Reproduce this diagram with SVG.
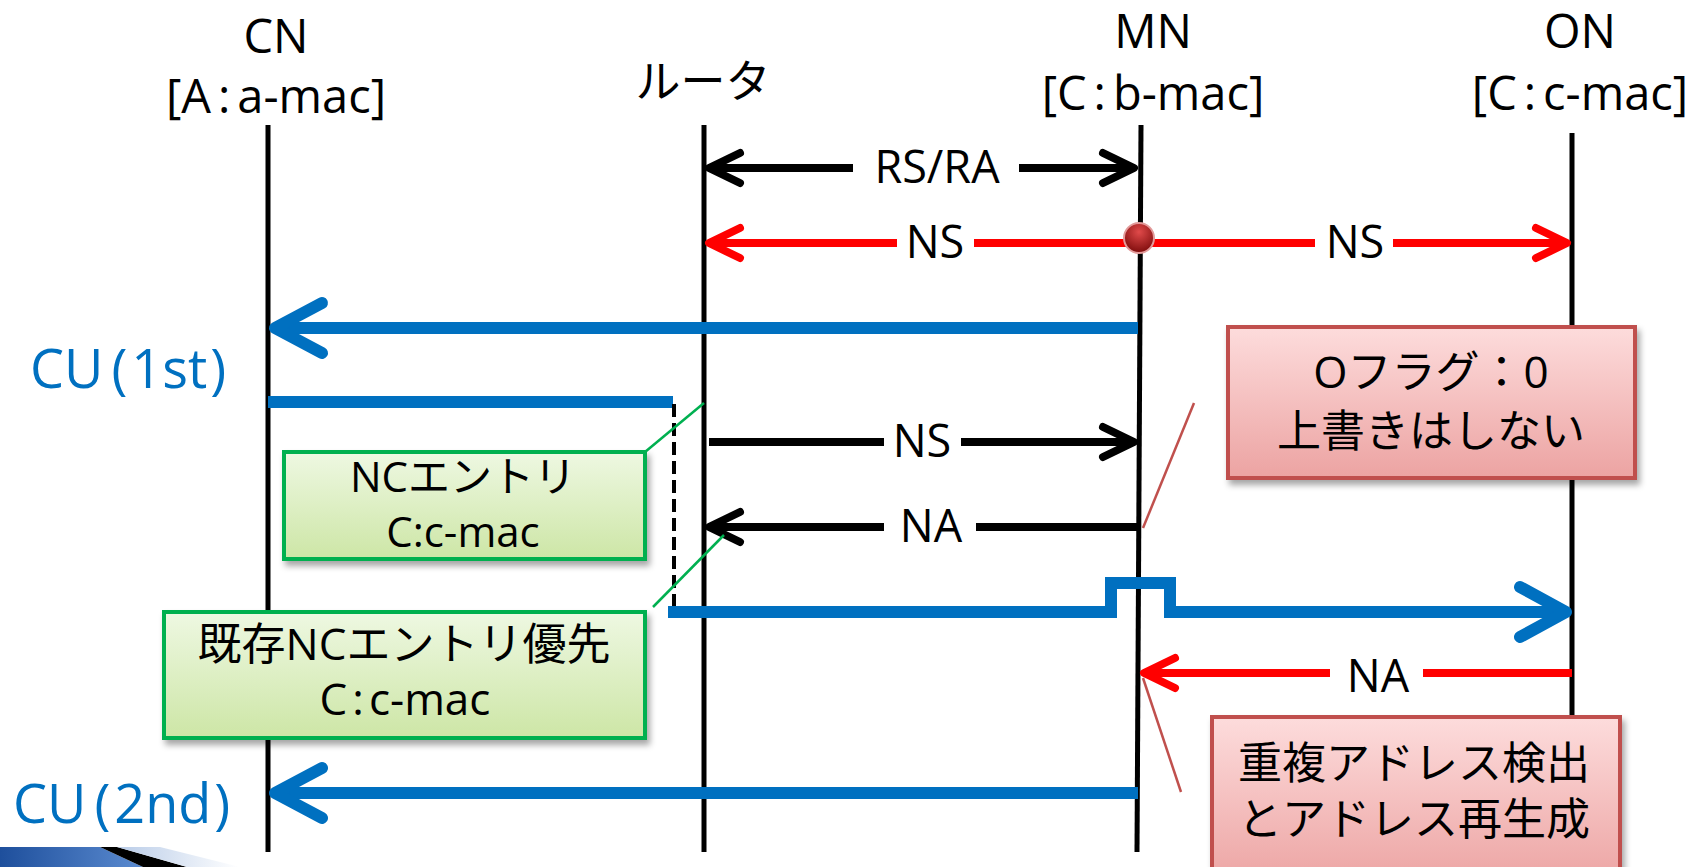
<svg xmlns="http://www.w3.org/2000/svg" width="1702" height="867" viewBox="0 0 1702 867">
  <style>
    text { font-family: "Open Sans", "Noto Sans CJK JP", sans-serif; fill: #000; }
    .hdr { font-size: 47px; text-anchor: middle; }
    .lbl { font-size: 45px; text-anchor: middle; }
    .box { font-size: 44px; text-anchor: middle; }
    .cu { font-size: 54px; fill: #0070C0; }
    .life { stroke: #000; stroke-width: 5; fill: none; }
    .blk { stroke: #000; stroke-width: 8; fill: none; }
    .red { stroke: #FF0000; stroke-width: 8; fill: none; }
    .blu { stroke: #0070C0; stroke-width: 12; fill: none; }
    .head { stroke-linecap: round; stroke-linejoin: round; }
    .gbox { fill: url(#gFill); stroke: #00B050; stroke-width: 4; filter: url(#shadow); }
    .pbox { fill: url(#pFill); stroke: #C0504D; stroke-width: 4; filter: url(#shadow); }
    .gcall { stroke: #00B050; stroke-width: 2.5; fill: none; }
    .pcall { stroke: #C0504D; stroke-width: 2.5; fill: none; }
  </style>
  <defs>
    <linearGradient id="gFill" x1="0" y1="0" x2="0" y2="1">
      <stop offset="0" stop-color="#EEF8E2"/>
      <stop offset="1" stop-color="#CDE6A6"/>
    </linearGradient>
    <linearGradient id="pFill" x1="0" y1="0" x2="0" y2="1">
      <stop offset="0" stop-color="#FDDCDC"/>
      <stop offset="1" stop-color="#ECA3A2"/>
    </linearGradient>
    <radialGradient id="dotFill" cx="0.5" cy="0.3" r="0.7">
      <stop offset="0" stop-color="#E04A4A"/>
      <stop offset="1" stop-color="#7E0C0C"/>
    </radialGradient>
    <linearGradient id="swBlue" x1="0" y1="0" x2="1" y2="0">
      <stop offset="0" stop-color="#1E4F9C"/>
      <stop offset="1" stop-color="#5B8BD0"/>
    </linearGradient>
    <linearGradient id="swLight" x1="0" y1="0" x2="1" y2="0">
      <stop offset="0" stop-color="#B9CCE8"/>
      <stop offset="1" stop-color="#FFFFFF"/>
    </linearGradient>
    <filter id="shadow" x="-10%" y="-10%" width="125%" height="135%">
      <feDropShadow dx="3" dy="5" stdDeviation="3" flood-color="#000" flood-opacity="0.35"/>
    </filter>
  </defs>

  <rect width="1702" height="867" fill="#FFFFFF"/>

  <!-- slide template corner decoration -->
  <g id="corner-deco">
    <path d="M0,847 L100,847 L143,867 L0,867 Z" fill="url(#swBlue)"/>
    <path d="M100,847 L117,847 L187,867 L143,867 Z" fill="#000"/>
    <path d="M117,847 L160,847 L240,867 L187,867 Z" fill="url(#swLight)"/>
  </g>

  <!-- participants: header labels and lifelines -->
  <g id="node-cn">
    <text class="hdr" x="276" y="53">CN</text>
    <text class="hdr" x="276" y="113">[A<tspan dx="7">:</tspan><tspan dx="7">a-mac]</tspan></text>
    <line class="life" x1="268" y1="125" x2="268" y2="852"/>
  </g>
  <g id="node-router">
    <text class="hdr" x="703" y="98" style="font-size:45px">ルータ</text>
    <line class="life" x1="704" y1="125" x2="704" y2="852"/>
  </g>
  <g id="node-mn">
    <text class="hdr" x="1153" y="48">MN</text>
    <text class="hdr" x="1153" y="110">[C<tspan dx="7">:</tspan><tspan dx="7">b-mac]</tspan></text>
    <line class="life" x1="1141" y1="125" x2="1137" y2="852"/>
  </g>
  <g id="node-on">
    <text class="hdr" x="1580" y="48">ON</text>
    <text class="hdr" x="1580" y="110">[C<tspan dx="7">:</tspan><tspan dx="7">c-mac]</tspan></text>
    <line class="life" x1="1572" y1="133" x2="1572" y2="852"/>
  </g>

  <!-- messages -->
  <g id="connectors">
    <!-- RS/RA -->
    <line class="blk" x1="709" y1="168" x2="853" y2="168"/>
    <line class="blk" x1="1019" y1="168" x2="1134" y2="168"/>
    <path class="blk head" d="M740,153 L709,168 L740,183"/>
    <path class="blk head" d="M1103,153 L1134,168 L1103,183"/>
    <text class="lbl" x="937" y="183">RS/RA</text>

    <!-- NS (red, both directions) -->
    <line class="red" x1="709" y1="243" x2="897" y2="243"/>
    <line class="red" x1="974" y1="243" x2="1315" y2="243"/>
    <line class="red" x1="1393" y1="243" x2="1567" y2="243"/>
    <path class="red head" d="M740,228 L709,243 L740,258"/>
    <path class="red head" d="M1536,228 L1567,243 L1536,258"/>
    <text class="lbl" x="935" y="258">NS</text>
    <text class="lbl" x="1355" y="258">NS</text>
    <circle cx="1139" cy="238" r="15" fill="url(#dotFill)" stroke="#E39A9A" stroke-width="2"/>

    <!-- CU (1st) -->
    <line class="blu" x1="275" y1="328" x2="1138" y2="328"/>
    <path class="blu head" d="M322,303 L275,328 L322,353"/>

    <!-- CN to router, forwarded after cache lookup -->
    <line class="blu" x1="268" y1="402" x2="673" y2="402"/>
    <line x1="674" y1="404" x2="674" y2="612" stroke="#000" stroke-width="4" stroke-dasharray="13 6"/>
    <path class="blu" d="M668,612 H1111 V583 H1170 V612 H1566"/>
    <path class="blu head" d="M1520,587 L1566,612 L1520,637"/>

    <!-- NS (router to MN) -->
    <line class="blk" x1="709" y1="442" x2="884" y2="442"/>
    <line class="blk" x1="961" y1="442" x2="1134" y2="442"/>
    <path class="blk head" d="M1103,427 L1134,442 L1103,457"/>
    <text class="lbl" x="922" y="457">NS</text>

    <!-- NA (MN to router) -->
    <line class="blk" x1="709" y1="527" x2="884" y2="527"/>
    <line class="blk" x1="976" y1="527" x2="1138" y2="527"/>
    <path class="blk head" d="M740,512 L709,527 L740,542"/>
    <text class="lbl" x="931" y="542">NA</text>

    <!-- NA (ON to MN) -->
    <line class="red" x1="1144" y1="673" x2="1330" y2="673"/>
    <line class="red" x1="1423" y1="673" x2="1572" y2="673"/>
    <path class="red head" d="M1175,658 L1144,673 L1175,688"/>
    <text class="lbl" x="1378" y="692">NA</text>

    <!-- CU (2nd) -->
    <line class="blu" x1="275" y1="793" x2="1138" y2="793"/>
    <path class="blu head" d="M322,768 L275,793 L322,818"/>

    <!-- callout pointers -->
    <line class="gcall" x1="704" y1="403" x2="645" y2="452"/>
    <line class="gcall" x1="653" y1="607" x2="724" y2="535"/>
    <line class="pcall" x1="1194" y1="403" x2="1143" y2="528"/>
    <line class="pcall" x1="1143" y1="678" x2="1181" y2="792"/>
  </g>

  <!-- message labels on the left -->
  <g id="label-cu1">
    <text class="cu" x="30" y="388">CU<tspan dx="8">(</tspan><tspan dx="4">1st</tspan><tspan dx="3">)</tspan></text>
  </g>
  <g id="label-cu2">
    <text class="cu" x="13" y="823">CU<tspan dx="8">(</tspan><tspan dx="4">2nd</tspan><tspan dx="3">)</tspan></text>
  </g>

  <!-- annotation boxes -->
  <g id="note-nc-entry">
    <rect class="gbox" x="284" y="452" width="361" height="107"/>
    <text class="box" x="463" y="492" style="font-size:42px">NCエントリ</text>
    <text class="box" x="463" y="547" style="font-size:42px">C:c-mac</text>
  </g>
  <g id="note-nc-priority">
    <rect class="gbox" x="164" y="612" width="481" height="126"/>
    <text class="box" x="404" y="660">既存NCエントリ優先</text>
    <text class="box" x="405" y="715">C<tspan dx="5">:</tspan><tspan dx="5">c-mac</tspan></text>
  </g>
  <g id="note-oflag">
    <rect class="pbox" x="1228" y="327" width="407" height="151"/>
    <text class="box" x="1431" y="388">Oフラグ：0</text>
    <text class="box" x="1431" y="447">上書きはしない</text>
  </g>
  <g id="note-dad">
    <rect class="pbox" x="1212" y="717" width="408" height="170"/>
    <text class="box" x="1414" y="779">重複アドレス検出</text>
    <text class="box" x="1414" y="835">とアドレス再生成</text>
  </g>
</svg>
